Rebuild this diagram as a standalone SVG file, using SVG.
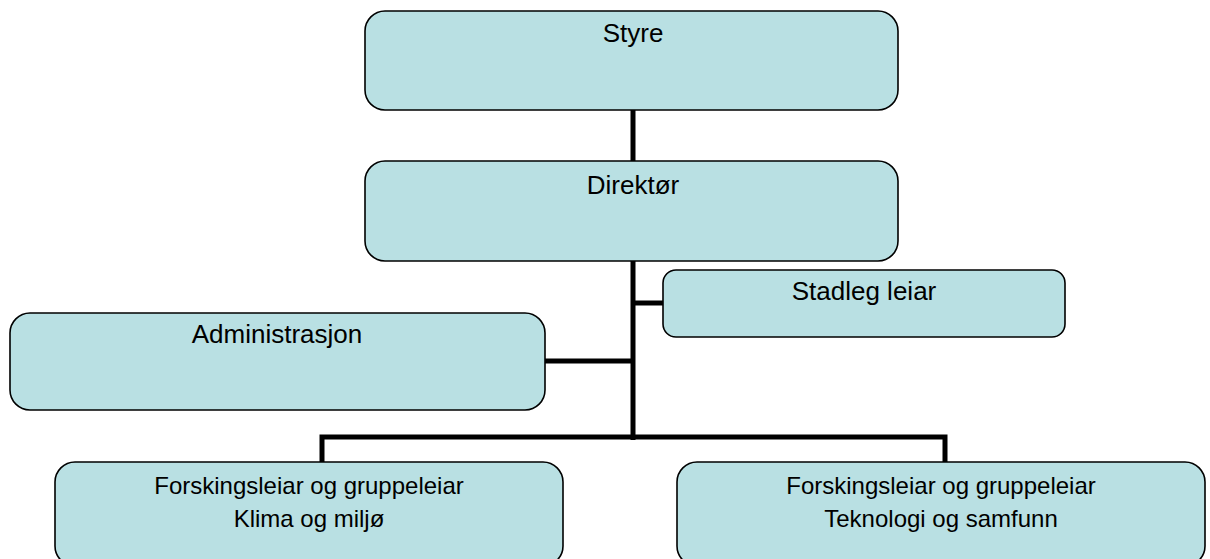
<svg xmlns="http://www.w3.org/2000/svg" width="1210" height="559" viewBox="0 0 1210 559">
<style>
.box{fill:#B9E0E3;stroke:#000;stroke-width:1.6}
.t{font-family:"Liberation Sans",Arial,sans-serif;font-size:26px;fill:#000;text-anchor:middle}
.tb{font-family:"Liberation Sans",Arial,sans-serif;font-size:24px;fill:#000;text-anchor:middle}
.c{fill:none;stroke:#000;stroke-width:5;stroke-linejoin:miter}
</style>
<rect width="1210" height="559" fill="#fff"/>
<g id="connectors">
<line class="c" x1="633" y1="110" x2="633" y2="161"/>
<line class="c" x1="633" y1="261" x2="633" y2="440"/>
<line class="c" x1="633" y1="303" x2="663" y2="303"/>
<line class="c" x1="545" y1="361" x2="633" y2="361"/>
<path class="c" d="M322,462 V437 H945 V462"/>
</g>
<g id="styre">
<rect class="box" x="365" y="11" width="533" height="99" rx="20"/>
<text class="t" x="633" y="42">Styre</text>
</g>
<g id="direktor">
<rect class="box" x="365" y="161" width="533" height="100" rx="20"/>
<text class="t" x="633" y="194">Direktør</text>
</g>
<g id="stadleg">
<rect class="box" x="663" y="270" width="402" height="67" rx="13"/>
<text class="t" x="864" y="300">Stadleg leiar</text>
</g>
<g id="administrasjon">
<rect class="box" x="10" y="313" width="535" height="97" rx="20"/>
<text class="t" x="277" y="343">Administrasjon</text>
</g>
<g id="klima">
<rect class="box" x="55" y="462" width="508" height="104" rx="20"/>
<text class="tb" x="309" y="494">Forskingsleiar og gruppeleiar</text>
<text class="tb" x="309" y="527">Klima og miljø</text>
</g>
<g id="teknologi">
<rect class="box" x="677" y="462" width="528" height="104" rx="20"/>
<text class="tb" x="941" y="494">Forskingsleiar og gruppeleiar</text>
<text class="tb" x="941" y="527">Teknologi og samfunn</text>
</g>
</svg>
